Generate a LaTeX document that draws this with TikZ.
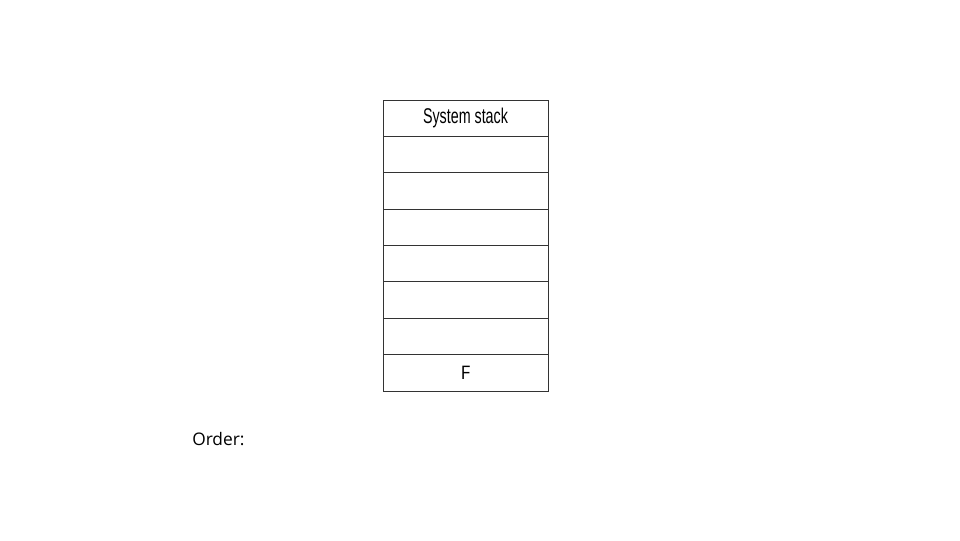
\documentclass[tikz,border=0pt]{standalone}
\usepackage{fontspec}
\setmainfont{Open Sans}
\newfontfamily\narrowfont[FakeStretch=0.67]{Liberation Sans}
\begin{document}
\begin{tikzpicture}[x=0.75pt,y=-0.75pt,font=\fontsize{13}{15}\selectfont]
    \tikzset{
        cell/.style={draw=black!80,line width=0.75pt,fill=white,inner sep=0pt,outer sep=0pt,
            minimum width=123.75pt,minimum height=27.28pt}
    }
    \useasboundingbox (0,0) rectangle (960,540);

    \node[cell,font=\narrowfont\fontsize{16}{18}\selectfont] (head) at (465.5,118.19) {System stack};
    \node[cell] (slot1) at (465.5,154.56) {};
    \node[cell] (slot2) at (465.5,190.94) {};
    \node[cell] (slot3) at (465.5,227.31) {};
    \node[cell] (slot4) at (465.5,263.69) {};
    \node[cell] (slot5) at (465.5,300.06) {};
    \node[cell] (slot6) at (465.5,336.44) {};
    \node[cell,font=\fontsize{14}{16}\selectfont] (bottom) at (465.5,372.81) {F};

    \node[anchor=west,inner sep=0pt] (order) at (192,439) {Order:};
\end{tikzpicture}
\end{document}
